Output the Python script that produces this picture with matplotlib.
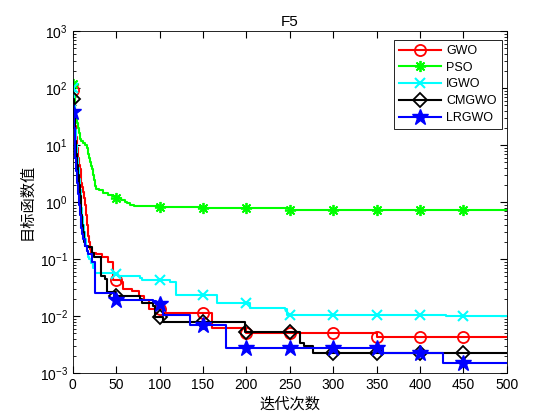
import numpy as np
import matplotlib
matplotlib.use("Agg")
import matplotlib.pyplot as plt
from matplotlib.ticker import NullFormatter

plt.rcParams['font.family'] = ['Liberation Sans', 'Noto Sans CJK SC', 'DejaVu Sans']

# convergence curves as (iteration, best value) breakpoints
gwo_it = [0, 1, 2, 3, 4, 5, 6, 7, 8, 9, 10, 11, 12, 13, 14, 15, 16, 17, 18, 19, 20, 21, 27, 34, 40,
          46, 55, 58, 68, 76, 82, 88, 104, 160, 200, 350, 500]
gwo_val = [92, 55, 35, 22, 14, 9, 6, 4.5, 3.8, 3, 2.2, 1.8, 1.5, 1.2, 0.9, 0.6, 0.4, 0.3, 0.25, 0.2,
           0.15, 0.13, 0.12, 0.11, 0.09, 0.043, 0.040, 0.030, 0.028, 0.022, 0.019, 0.0135, 0.0115,
           0.0062, 0.005, 0.0043, 0.0043]

pso_it = [0, 1, 2, 3, 4, 5, 6, 7, 8, 10, 12, 14, 16, 17, 18, 19, 20, 21, 22, 23, 24, 25, 27, 30,
          35, 40, 45, 50, 55, 60, 62, 66, 70, 100, 150, 200, 250, 300, 450, 500]
pso_val = [117, 80, 50, 34, 28, 24, 20, 16, 13, 12, 11, 10, 9, 8, 7, 6, 5, 4.3, 3.8, 3, 2.4, 1.9,
           1.7, 1.6, 1.45, 1.35, 1.25, 1.17, 1.1, 1.02, 0.95, 0.9, 0.86, 0.82, 0.8, 0.78, 0.73,
           0.72, 0.71, 0.71]

igwo_it = [0, 1, 2, 3, 4, 5, 6, 7, 8, 9, 10, 11, 12, 13, 14, 15, 16, 17, 18, 19, 21, 23, 25, 48,
           52, 77, 80, 112, 119, 166, 204, 245, 247, 430, 500]
igwo_val = [100, 50, 30, 18, 10, 6, 4, 2.5, 1.6, 1.1, 0.8, 0.55, 0.4, 0.3, 0.22, 0.17, 0.14, 0.12,
            0.11, 0.1, 0.085, 0.07, 0.056, 0.055, 0.051, 0.047, 0.042, 0.040, 0.023, 0.017, 0.014,
            0.013, 0.0105, 0.010, 0.010]

cmgwo_it = [0, 1, 2, 3, 4, 5, 6, 7, 8, 9, 10, 11, 12, 13, 14, 17, 22, 24, 33, 37, 39, 50, 77, 80,
            92, 95, 104, 198, 262, 266, 277, 500]
cmgwo_val = [63, 35, 20, 12, 7, 4.5, 3, 2, 1.3, 0.9, 0.6, 0.4, 0.3, 0.2, 0.17, 0.16, 0.13, 0.11,
             0.05, 0.045, 0.026, 0.022, 0.020, 0.017, 0.015, 0.0096, 0.0080, 0.0052, 0.0034,
             0.0030, 0.0022, 0.0022]

lrgwo_it = [0, 1, 2, 3, 4, 5, 6, 7, 8, 9, 10, 11, 12, 14, 16, 18, 22, 26, 48, 92, 96, 104, 135,
            177, 357, 426, 500]
lrgwo_val = [38, 20, 11, 6, 3.5, 2.2, 1.4, 0.9, 0.6, 0.45, 0.35, 0.28, 0.22, 0.17, 0.14, 0.12,
             0.09, 0.025, 0.019, 0.018, 0.0165, 0.0105, 0.0070, 0.0027, 0.0022, 0.0015, 0.0015]

names = ['GWO', 'PSO', 'IGWO', 'CMGWO', 'LRGWO']
marks = np.arange(0, 500, 50)

series = [(gwo_it, gwo_val), (pso_it, pso_val), (igwo_it, igwo_val),
          (cmgwo_it, cmgwo_val), (lrgwo_it, lrgwo_val)]
styles = [
    dict(color='red', marker='o', mfc='none', ms=8, mew=1.3),
    dict(color=(0, 1, 0), marker=(8, 2, 0), ms=8, mew=1.3),
    dict(color='cyan', marker='x', ms=7, mew=1.5),
    dict(color='black', marker='D', mfc='none', ms=7, mew=1.3),
    dict(color='blue', marker='*', ms=12, mew=1.0),
]

fig = plt.figure(figsize=(5.6, 4.2), dpi=100)
ax = fig.add_axes([0.13, 0.112, 0.775, 0.814])

for name, (it, val), st in zip(names, series, styles):
    it = np.array(it, dtype=float)
    val = np.array(val, dtype=float)
    xs = np.union1d(it, marks)
    ys = val[np.searchsorted(it, xs, side='right') - 1]
    idx = [int(np.where(xs == m)[0][0]) for m in marks]
    ax.plot(xs, ys, drawstyle='steps-post', lw=1.5, markevery=idx, label=name, **st)

ax.set_yscale('log')
ax.set_ylim(1e-3, 1e3)
ax.yaxis.set_minor_formatter(NullFormatter())
ax.set_xlim(0, 500)
ax.set_xticks(np.arange(0, 501, 50))
ax.tick_params(which='both', direction='in', top=True, right=True, labelsize=10)
ax.tick_params(which='major', length=5)
ax.tick_params(which='minor', length=2.5)
for s in ax.spines.values():
    s.set_linewidth(0.6)

ax.set_title('F5', fontsize=11, pad=4)
ax.set_xlabel('迭代次数', fontsize=11, labelpad=4)
ax.set_ylabel('目标函数值', fontsize=11)

leg = ax.legend(loc='upper right', fontsize=9, fancybox=False, edgecolor='black',
                framealpha=1, borderpad=0.4, labelspacing=0.38, handlelength=3.4,
                handletextpad=0.4, borderaxespad=0, bbox_to_anchor=(0.988, 0.974))
leg.get_frame().set_linewidth(0.6)

fig.savefig('out.png', dpi=100)
